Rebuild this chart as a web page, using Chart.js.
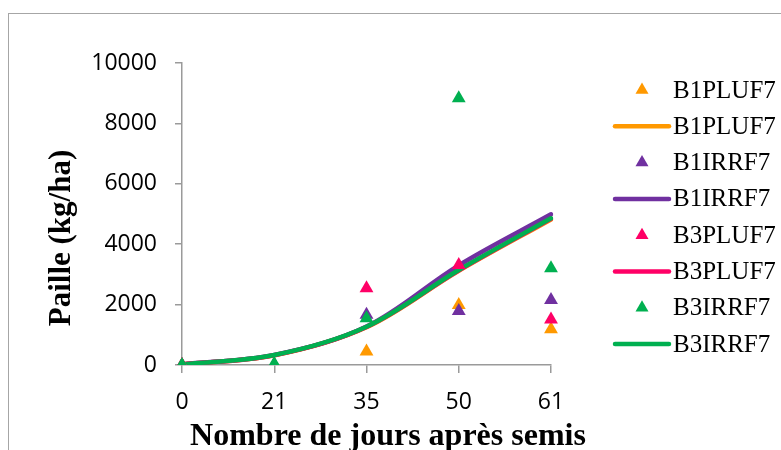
<!DOCTYPE html>
<html>
<head>
<meta charset="utf-8">
<script src="https://cdn.jsdelivr.net/npm/chart.js@4"></script>
<style>
  html, body { margin:0; padding:0; background:#fff; }
  #wrap { position:relative; width:781px; height:450px; overflow:hidden; }
</style>
</head>
<body>
<div id="wrap"><canvas id="chart" width="781" height="450"></canvas></div>
<script>
// days after sowing (category axis)
const DAYS = ["0", "21", "35", "50", "61"];
const Y_TICKS = [0, 2000, 4000, 6000, 8000, 10000];

// observed straw (kg/ha)
const obsB1PLU = [0, 0, 450, 1990, 1180];
const obsB1IRR = [0, 0, 1660, 1790, 2150];
const obsB3PLU = [0, 0, 2540, 3310, 1510];
const obsB3IRR = [0, 40, 1550, 8830, 3200];

// simulated straw (kg/ha)
const simB1PLU = [20, 320, 1250, 3120, 4820];
const simB1IRR = [20, 335, 1275, 3300, 4990];
const simB3PLU = [20, 325, 1260, 3130, 4840];
const simB3IRR = [20, 331, 1269, 3146, 4857];

const NAMES = ["B1PLUF7", "B1IRRF7", "B3PLUF7", "B3IRRF7"];
const COLORS = {
  orange: "#FF9900",
  purple: "#7030A0",
  pink:   "#FF0066",
  green:  "#00B050",
  axis:   "#9a9a9a"
};

function pts(name, data, color, order){
  return {
    label: name, data, order,
    showLine: false,
    pointStyle: "triangle",
    pointRadius: 8, pointHoverRadius: 8,
    backgroundColor: color, borderColor: color, pointBorderWidth: 0,
    isMarker: true
  };
}
function curve(name, data, color, order){
  return {
    label: name, data, order,
    borderColor: color, backgroundColor: color,
    borderWidth: 4.5, pointRadius: 0, pointHoverRadius: 0,
    tension: 0.35, fill: false, borderCapStyle: "round",
    isMarker: false
  };
}

const datasets = [
  pts(NAMES[0], obsB1PLU, COLORS.orange, 4),
  curve(NAMES[0], simB1PLU, COLORS.orange, 8),
  pts(NAMES[1], obsB1IRR, COLORS.purple, 3),
  curve(NAMES[1], simB1IRR, COLORS.purple, 7),
  pts(NAMES[2], obsB3PLU, COLORS.pink, 2),
  curve(NAMES[2], simB3PLU, COLORS.pink, 6),
  pts(NAMES[3], obsB3IRR, COLORS.green, 1),
  curve(NAMES[3], simB3IRR, COLORS.green, 5)
];

// frame, axis titles and legend
const decorations = {
  id: "decorations",
  beforeDraw(chart){
    const {ctx} = chart;
    ctx.save();
    ctx.strokeStyle = "#a6a6a6";
    ctx.lineWidth = 1;
    ctx.strokeRect(8.5, 13.5, 1000, 1000);
    ctx.restore();
  },
  afterDraw(chart){
    const {ctx} = chart;
    ctx.save();
    ctx.fillStyle = "#000";
    ctx.font = "bold 31px 'Liberation Serif', 'Times New Roman', serif";
    ctx.textAlign = "center";
    ctx.textBaseline = "middle";
    ctx.translate(62, 238);
    ctx.rotate(-Math.PI/2);
    ctx.fillText("Paille (kg/ha)", 0, 0);
    ctx.restore();

    ctx.save();
    ctx.fillStyle = "#000";
    ctx.font = "bold 32px 'Liberation Serif', 'Times New Roman', serif";
    ctx.textAlign = "center";
    ctx.textBaseline = "alphabetic";
    ctx.fillText("Nombre de jours après semis", 388, 445);
    ctx.restore();

    // legend, in dataset order
    ctx.save();
    ctx.font = "25px 'Liberation Serif', 'Times New Roman', serif";
    ctx.textBaseline = "middle";
    ctx.textAlign = "left";
    chart.data.datasets.forEach((ds, i) => {
      const y = 90 + i*36.3;
      if (ds.isMarker){
        const r = 7.5;
        ctx.fillStyle = ds.backgroundColor;
        ctx.beginPath();
        ctx.moveTo(642, y - r);
        ctx.lineTo(642 + r*0.866, y + r/2);
        ctx.lineTo(642 - r*0.866, y + r/2);
        ctx.closePath();
        ctx.fill();
      } else {
        ctx.strokeStyle = ds.borderColor;
        ctx.lineWidth = 4.5;
        ctx.lineCap = "round";
        ctx.beginPath();
        ctx.moveTo(615, y);
        ctx.lineTo(669, y);
        ctx.stroke();
      }
      ctx.fillStyle = "#000";
      ctx.fillText(ds.label, 673, y + 1);
    });
    ctx.restore();
  }
};

new Chart(document.getElementById("chart"), {
  type: "line",
  data: { labels: DAYS, datasets },
  options: {
    responsive: false,
    animation: false,
    layout: { padding: { top: 63, right: 230, left: 0, bottom: 0 } },
    plugins: { legend: { display: false }, tooltip: { enabled: false } },
    scales: {
      x: {
        type: "category",
        offset: false,
        afterFit: (s) => { s.height = 85; },
        border: { color: COLORS.axis, width: 1.5 },
        grid: { drawOnChartArea: false, drawTicks: true, tickLength: 8, color: COLORS.axis, lineWidth: 1.5 },
        ticks: { color: "#000", padding: 16, font: { family: "'Open Sans', sans-serif", size: 23 }, maxRotation: 0 }
      },
      y: {
        min: 0, max: 10000,
        afterFit: (s) => { s.width = 182; },
        afterBuildTicks: (s) => { s.ticks = Y_TICKS.map(v => ({ value: v })); },
        border: { color: COLORS.axis, width: 1.5 },
        grid: { drawOnChartArea: false, drawTicks: true, tickLength: 7, color: COLORS.axis, lineWidth: 1.5 },
        ticks: {
          color: "#000", padding: 18,
          font: { family: "'Open Sans', sans-serif", size: 23 },
          callback: (v) => String(v)
        }
      }
    }
  },
  plugins: [decorations]
});
</script>
</body>
</html>
